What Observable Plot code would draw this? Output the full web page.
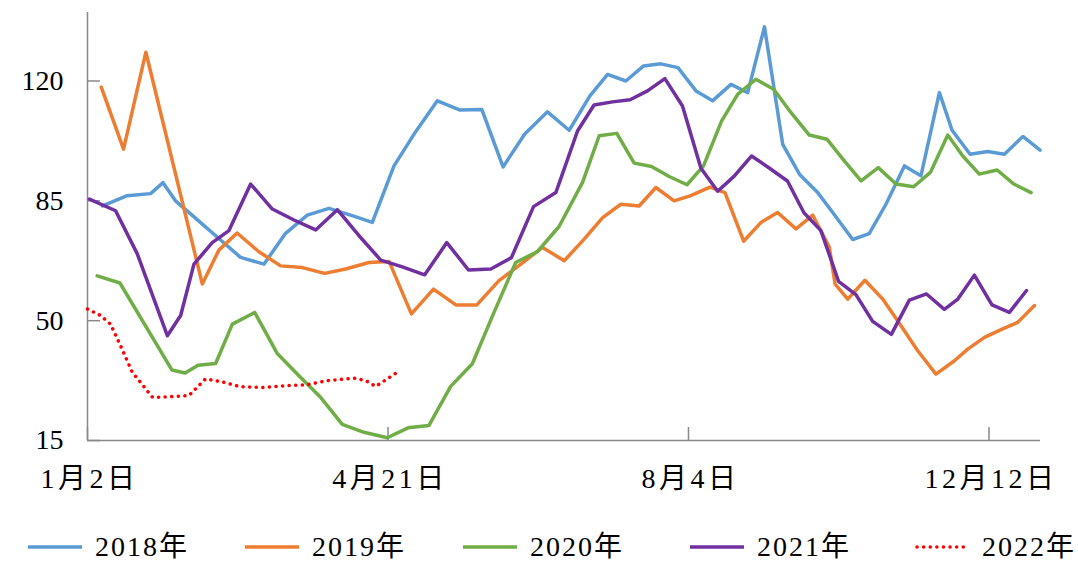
<!DOCTYPE html>
<html><head><meta charset="utf-8">
<script src="https://cdn.jsdelivr.net/npm/d3@7"></script>
<script src="https://cdn.jsdelivr.net/npm/@observablehq/plot@0.6"></script>
<style>
html,body{margin:0;padding:0;background:#fff;overflow:hidden;width:1078px;height:562px;}
body{font-family:"Liberation Serif","Noto Sans CJK SC",serif;position:relative;}
#legend{position:absolute;left:0;top:531px;width:1078px;height:31px;font-size:28px;line-height:28px;color:#000;font-family:"Liberation Serif","Noto Sans CJK SC",serif;}
.item{position:absolute;top:0;height:31px;display:flex;align-items:center;gap:13px;white-space:nowrap;}
.item span{letter-spacing:2px;}
svg g[aria-label="x-axis tick label"] text{letter-spacing:3.5px;}
</style></head><body>
<div id="chart"></div>
<div id="legend"></div>
<script>
// x positions in chart units (tick 1月2日 = 0, 4月21日 = 14, 8月4日 = 28, 12月12日 = 42)
const xTickPos = [0, 14, 28, 42];
const xTickLabels = ["1月2日", "4月21日", "8月4日", "12月12日"];
const yTicks = [15, 50, 85, 120];

const x2018 = [0.7,1.85,2.94,3.52,4.1,5.11,6.12,7.13,8.22,9.23,10.24,11.25,12.26,13.27,14.28,15.29,16.3,17.36,18.37,19.36,20.37,21.43,22.44,23.4,24.23,25.08,25.91,26.71,27.51,28.35,29.12,29.98,30.76,31.54,32.39,33.19,34.02,34.79,35.65,36.42,37.2,38.06,38.83,39.69,40.28,41.12,41.94,42.72,43.58,44.38];
const v2018 = [83.5,86.5,87.1,90.3,85.0,79.5,74.0,68.5,66.5,75.5,80.8,82.8,80.8,78.7,95.2,105.2,114.2,111.5,111.7,94.9,104.5,111.0,105.6,115.6,121.9,120.0,124.4,125.0,123.9,117.1,114.2,119.0,116.6,135.8,101.5,92.6,87.4,81.0,73.7,75.4,84.0,95.2,92.3,116.6,105.6,98.6,99.4,98.6,103.8,99.8];

const x2019 = [0.64,1.68,2.72,5.35,6.12,6.97,7.97,9.0,10.01,11.05,12.03,13.11,14.05,15.09,16.12,17.16,18.14,19.17,20.19,21.2,22.21,23.14,24.0,24.85,25.7,26.48,27.33,28.11,29.0,29.7,30.57,31.38,32.15,33.01,33.79,34.56,34.83,35.42,36.22,37.05,37.9,38.68,39.53,40.39,41.01,41.79,42.64,43.34,44.12];
const v2019 = [118.2,100.1,128.4,60.7,70.6,75.6,70.2,66.0,65.5,63.8,65.1,67.0,67.3,52.0,59.2,54.6,54.6,61.7,66.5,71.4,67.5,73.8,80.1,84.0,83.5,88.9,85.0,86.5,89.0,87.4,73.2,78.7,81.6,76.8,80.8,71.5,60.7,56.3,61.8,56.3,48.5,41.2,34.4,38.3,41.7,45.1,47.6,49.5,54.4];

const x2020 = [0.45,1.51,3.93,4.55,5.15,5.97,6.75,7.79,8.83,9.84,10.86,11.87,12.88,13.97,14.93,15.91,16.92,17.93,18.94,19.95,20.97,21.97,23.06,23.84,24.66,25.47,26.28,27.1,27.93,28.7,29.54,30.29,31.14,31.97,32.77,33.63,34.45,35.23,36.04,36.84,37.67,38.49,39.27,40.08,40.78,41.55,42.38,43.16,43.96];
const v2020 = [63.1,61.0,35.6,34.7,37.0,37.5,49.0,52.4,40.5,34.0,27.6,19.7,17.4,15.8,18.7,19.4,30.8,37.4,52.4,67.0,70.2,77.5,90.3,104.0,104.7,96.0,95.0,92.1,89.7,95.2,108.3,116.1,120.5,117.6,110.8,104.2,103.0,96.9,90.8,94.7,89.9,89.1,93.3,104.2,98.1,92.8,94.0,89.9,87.4];

const x2021 = [0.09,1.31,2.32,3.72,4.34,4.96,5.81,6.59,7.6,8.61,9.62,10.63,11.64,12.65,13.66,14.67,15.71,16.74,17.75,18.79,19.75,20.78,21.82,22.83,23.6,24.46,25.28,26.09,26.9,27.72,28.58,29.36,30.13,30.94,31.76,32.61,33.38,34.17,34.99,35.8,36.58,37.45,38.29,39.09,39.92,40.55,41.32,42.14,42.95,43.75];
const v2021 = [85.5,82.1,69.5,45.6,51.5,66.5,72.8,76.3,89.9,82.6,79.4,76.5,82.4,74.8,67.7,65.7,63.4,72.8,64.8,65.1,68.4,83.3,87.4,105.4,113.0,113.9,114.5,117.1,120.7,112.7,94.5,87.8,92.2,98.1,94.6,90.8,81.5,76.3,61.5,57.6,49.8,46.0,56.0,57.8,53.3,56.3,63.3,54.6,52.4,58.8];

const x2022 = [0,0.61,1.07,1.54,2.08,3.03,3.87,4.72,5.5,6.35,7.13,8.16,9.23,10.24,11.17,12.41,12.96,13.43,14.45];
const v2022 = [53.4,51.5,49.0,42.7,35.0,27.6,27.8,28.1,33.0,32.0,30.7,30.5,31.0,31.3,32.5,33.2,32.5,30.8,35.0];

const names = ["2018年","2019年","2020年","2021年","2022年"];
const colors = ["#5B9BD5","#ED7D31","#70AD47","#7030A0","#FF0000"];
const xsList = [x2018,x2019,x2020,x2021,x2022];
const vsList = [v2018,v2019,v2020,v2021,v2022];

const rows = names.flatMap((n, k) => xsList[k].map((x, i) => ({x, y: vsList[k][i], name: n})));

const axisColor = "#898989";
const font = '"Liberation Serif","Noto Sans CJK SC",serif';
const labelMap = new Map(xTickPos.map((p, i) => [p, xTickLabels[i]]));

const lineMarks = names.map((n, k) => Plot.line(rows.filter(d => d.name === n), {
  x: "x", y: "y",
  stroke: colors[k],
  strokeWidth: 3.5,
  strokeLinejoin: "round",
  strokeLinecap: "round",
  strokeDasharray: n === "2022年" ? "0.1 6.5" : null
}));

const chart = Plot.plot({
  width: 1078, height: 520,
  marginLeft: 87, marginRight: 38, marginTop: 12, marginBottom: 80,
  style: {fontFamily: font, fontSize: "28px", color: "#000", background: "#fff"},
  x: {domain: [0, 44.4]},
  y: {domain: [15, 140]},
  marks: [
    Plot.axisY(yTicks, {tickSize: -13, tickFormat: () => "", stroke: axisColor, strokeWidth: 1.5, label: null}),
    Plot.axisY(yTicks, {tickSize: 0, tickPadding: 24, fontSize: 28, fill: "#000", label: null}),
    Plot.axisX(xTickPos, {tickSize: -13, tickFormat: () => "", stroke: axisColor, strokeWidth: 1.5, label: null}),
    Plot.axisX(xTickPos, {tickSize: 0, tickPadding: 28, fontSize: 28, fill: "#000", dx: 2, tickFormat: d => labelMap.get(d), label: null}),
    Plot.ruleX([0], {stroke: axisColor, strokeWidth: 1.5}),
    Plot.ruleY([15], {stroke: axisColor, strokeWidth: 1.5}),
    ...lineMarks
  ]
});
document.getElementById("chart").appendChild(chart);

const legendLeft = [28, 245, 463, 690, 915];
const legend = document.getElementById("legend");
names.forEach((n, k) => {
  const item = document.createElement("div");
  item.className = "item";
  item.style.left = legendLeft[k] + "px";
  const dash = n === "2022年" ? 'stroke-dasharray="0.1 6.5" stroke-linecap="round"' : '';
  item.innerHTML = `<svg width="54" height="10"><line x1="${n === "2022年" ? 2 : 0}" y1="5" x2="54" y2="5" stroke="${colors[k]}" stroke-width="3.5" ${dash}/></svg><span>${n}</span>`;
  legend.appendChild(item);
});
</script>
</body></html>
